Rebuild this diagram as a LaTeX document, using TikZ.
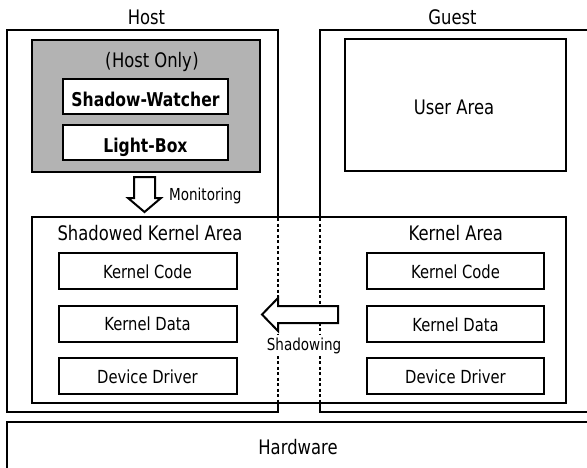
\documentclass[tikz,border=0pt]{standalone}
\usepackage{fontspec}
\setmainfont{DejaVu Sans}[FakeStretch=0.82]
\definecolor{shade}{RGB}{179,179,179}
\tikzset{
  x=1pt, y=-1pt,
  frame/.style={draw=black, line width=2pt},
  box/.style={draw=black, line width=2pt, fill=white, inner sep=0pt,
    minimum width=#1, minimum height=36pt, text height=14.6pt, text depth=0pt,
    font=\fontsize{18}{20}\selectfont},
  box/.default=178pt,
  boldbox/.style={box=165pt, minimum height=35pt, text height=19pt,
    font=\fontsize{19}{21}\selectfont\bfseries},
  title/.style={inner sep=0pt, anchor=base, font=\fontsize{20}{24}\selectfont},
  small/.style={inner sep=0pt, anchor=base, font=\fontsize{16.5}{19}\selectfont},
  guide/.style={line width=1.4pt, dash pattern=on 3pt off 2.5pt},
  blockarrow/.style={draw=black, line width=2pt, fill=white, line join=miter}
}
\begin{document}
\begin{tikzpicture}
\useasboundingbox (0,0) rectangle (587,467);
\clip (0,0) rectangle (587,467);

% outer regions
\draw[frame] (7,30) rectangle (278,412);
\draw[frame] (320,30) rectangle (600,412);
\draw[frame] (7,422) rectangle (600,480);

\node[title] (host) at (146.5,24.5) {Host};
\node[title] (guest) at (452.5,24.5) {Guest};
\node[title] (hw) at (298,454) {Hardware};

% host-only part
\draw[frame, fill=shade] (32,40) rectangle (260,172);
\node[title] (hostonly) at (152,67.5) {(\hspace{0.5pt}Host\hspace{5pt}Only\hspace{0.5pt})};
\node[boldbox] (sw) at (145.5,96.5) {Shadow-Watcher};
\node[boldbox] (lb) at (145.5,142.5) {Light-Box};

% user area
\draw[frame] (345,39) rectangle (566,171);
\node[title] (user) at (454,114) {User Area};

% kernel area spanning host and guest
\draw[frame, fill=white] (32,217) rectangle (566,403);
\draw[guide] (278,218) -- (278,402);
\draw[guide] (320,218) -- (320,402);

\node[title] (ska) at (150,240) {Shadowed Kernel Area};
\node[title] (ka) at (455.8,240) {Kernel Area};

\node[box] (lcode) at (147.5,271) {Kernel Code};
\node[box] (ldata) at (147.5,323.5) {Kernel Data};
\node[box] (ldrv) at (147.5,376) {Device Driver};

\node[box=177pt] (rcode) at (455.5,271) {Kernel Code};
\node[box=177pt] (rdata) at (455.5,324) {Kernel Data};
\node[box=177pt] (rdrv) at (455.5,376) {Device Driver};

% monitoring arrow
\coordinate (mon) at (144.5,177);
\draw[blockarrow] (mon) ++(-10.5,0) -- ++(0,21) -- ++(-6,0) -- (144.5,212)
  -- (161,198) -- ++(-6,0) -- ++(0,-21) -- cycle;
\node[small, anchor=base west] (monlbl) at (169,200) {Monitoring};

% shadowing arrow, its label masks the guide lines
\coordinate (shd) at (338,306);
\draw[blockarrow] (shd) -- ++(0,17) -- (278,323) -- (278,331) -- (262,314.5)
  -- (278,298) -- (278,306) -- cycle;
\node[small, fill=white, inner xsep=1pt, inner ysep=2.5pt] (shdlbl) at (304,350) {Shadowing};
\end{tikzpicture}
\end{document}
